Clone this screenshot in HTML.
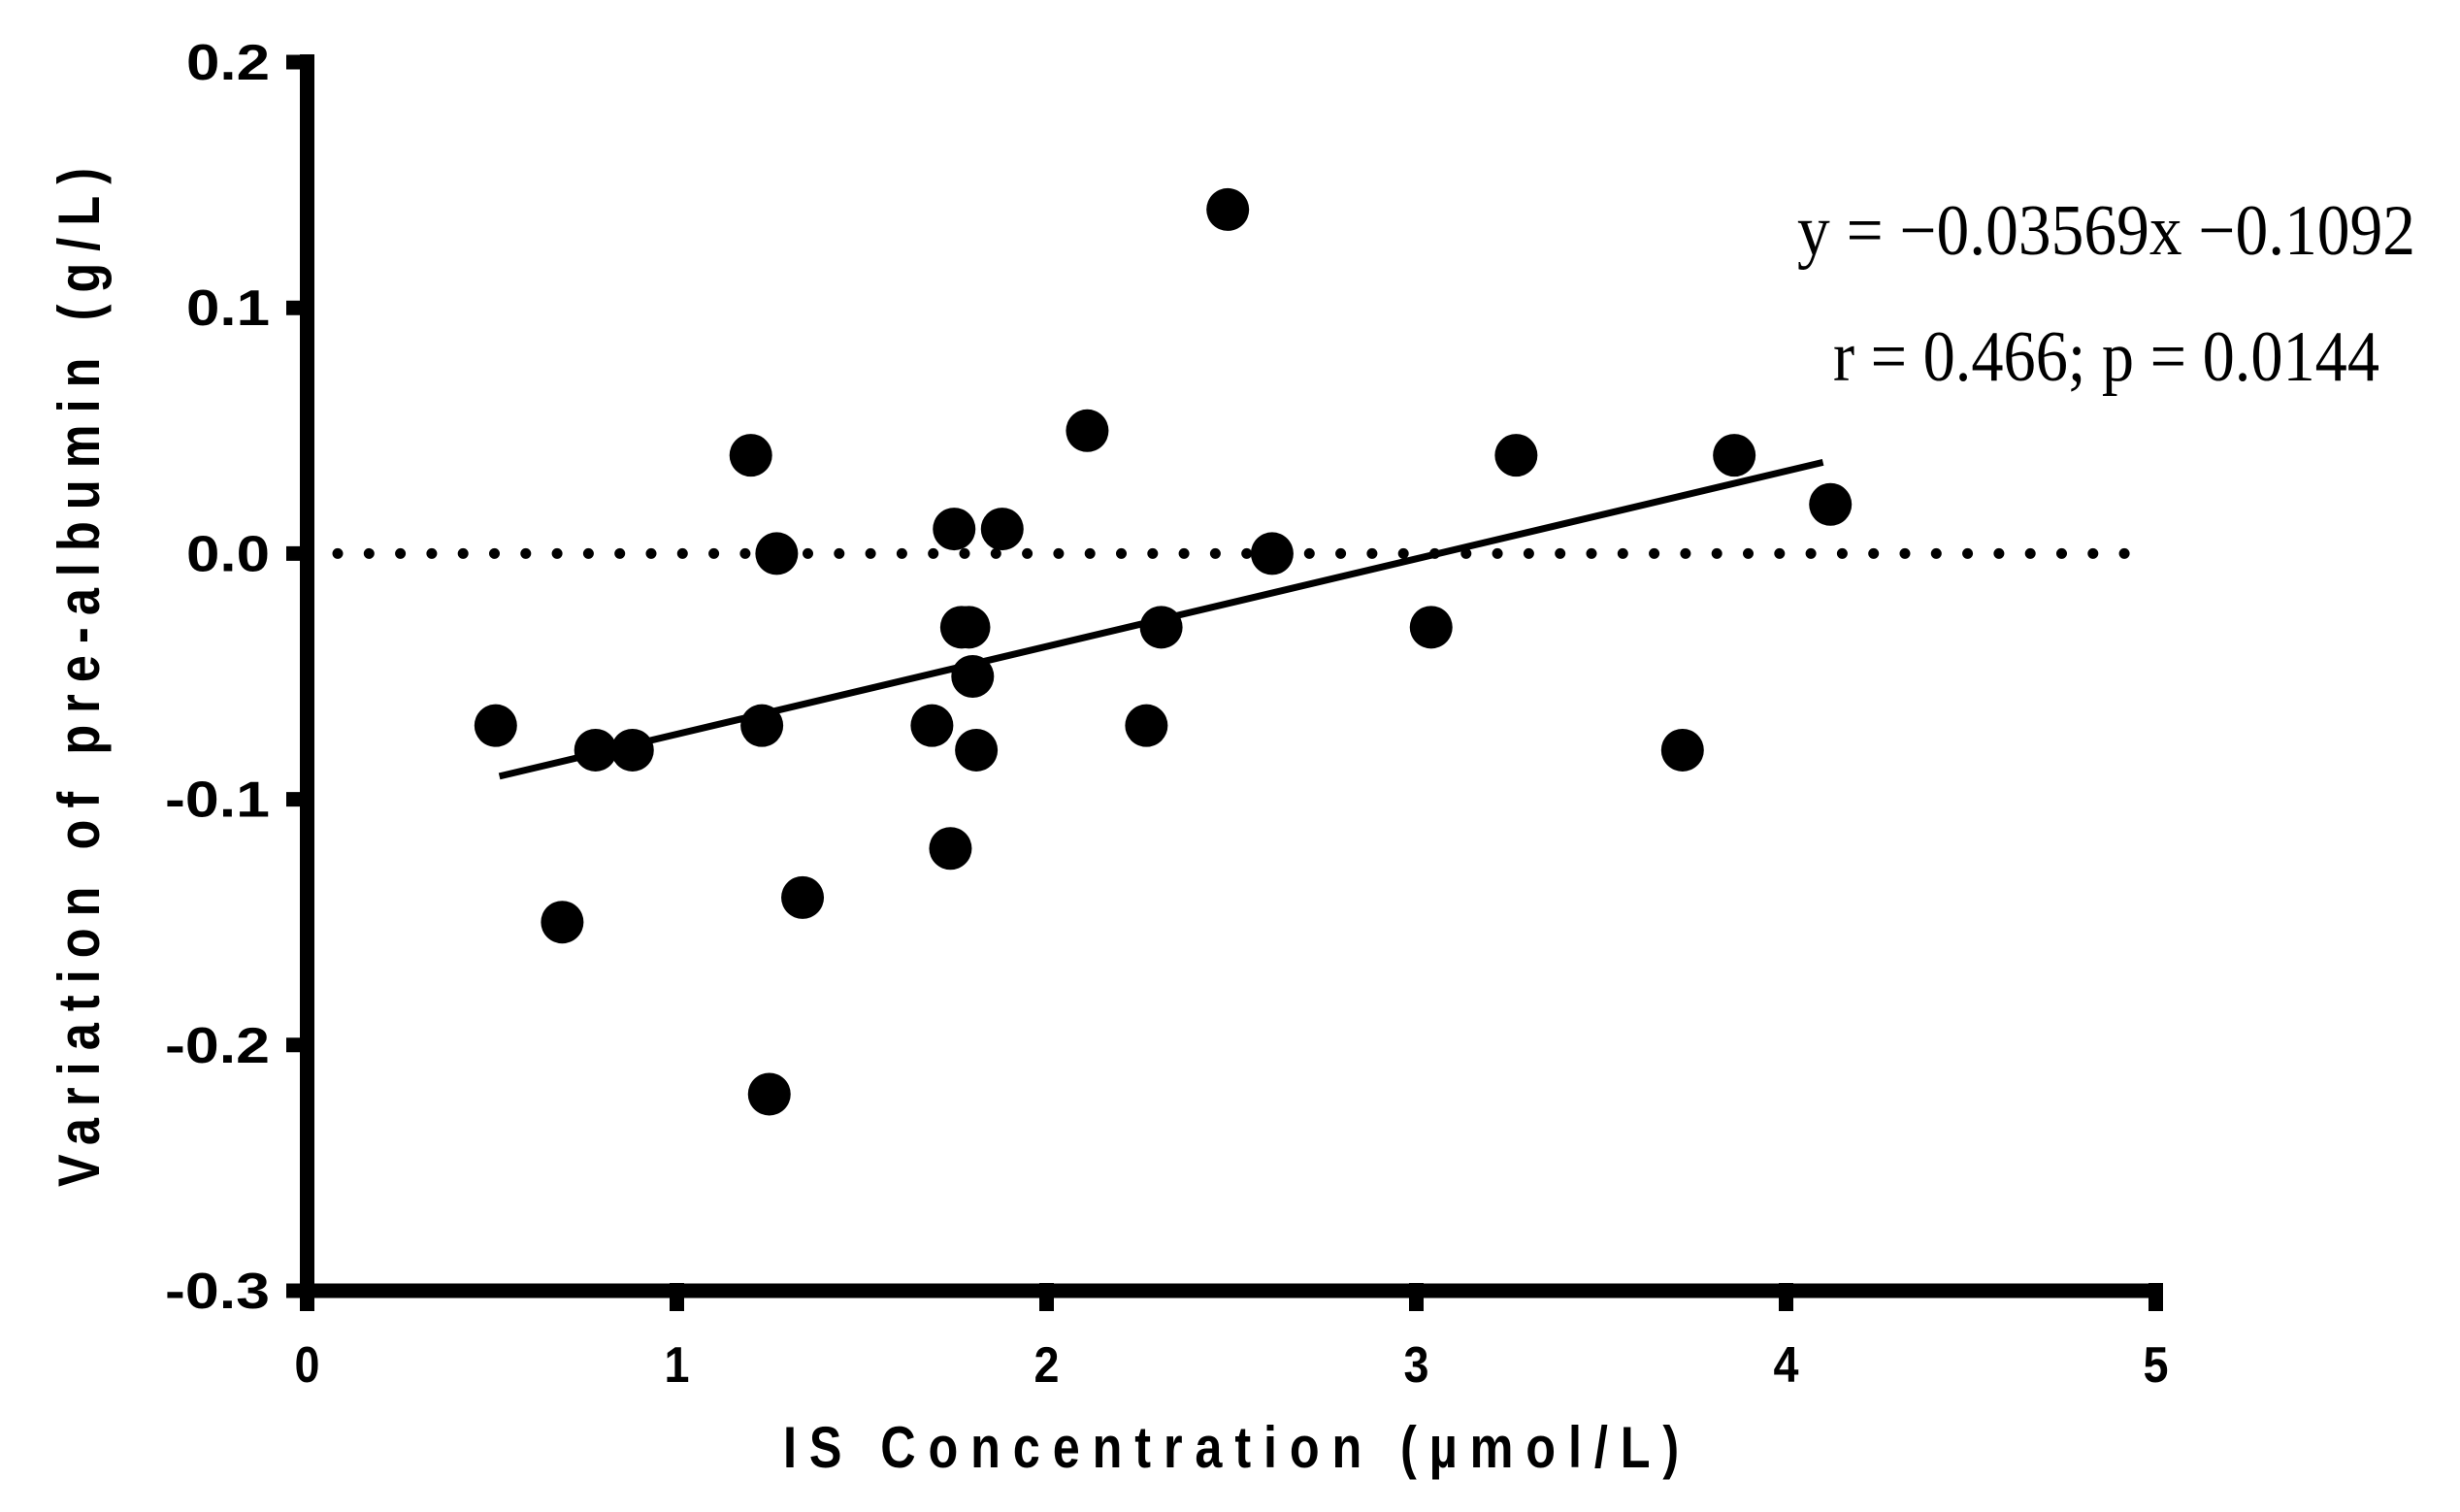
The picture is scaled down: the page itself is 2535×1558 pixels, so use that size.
<!DOCTYPE html>
<html><head><meta charset="utf-8"><style>
html,body{margin:0;padding:0;background:#fff;}
svg{display:block;}
text{white-space:pre;}
</style></head><body>
<svg id="chart" width="2535" height="1558" viewBox="0 0 2535 1558" xmlns="http://www.w3.org/2000/svg" xml:space="preserve">
<g id="plot"></g>
</svg>
<script>
const xValues = [0.51,0.69,0.78,0.88,1.20,1.23,1.25,1.27,1.34,1.69,1.74,1.75,1.77,1.79,1.80,1.81,1.88,2.11,2.27,2.31,2.49,2.61,3.04,3.27,3.72,3.86,4.12];
const yValues = [-0.07,-0.15,-0.08,-0.08,0.04,-0.07,-0.22,0.0,-0.14,-0.07,-0.12,0.01,-0.03,-0.03,-0.05,-0.08,0.01,0.05,-0.07,-0.03,0.14,0.0,-0.03,0.04,-0.08,0.04,0.02];
const xTicks = [0,1,2,3,4,5];
const xTickLabels = ["0","1","2","3","4","5"];
const yTicks = [0.2,0.1,0.0,-0.1,-0.2,-0.3];
const yTickLabels = ["0.2","0.1","0.0","-0.1","-0.2","-0.3"];
const fitSlope = 0.03569;
const fitIntercept = -0.1092;
const fitRange = [0.52, 4.1];

const NS = "http://www.w3.org/2000/svg";
const g = document.getElementById('plot');
const X0 = 316.5, XU = 381;
const Y0 = 570.4, YU = 2532;
function sx(v){ return X0 + v*XU; }
function sy(v){ return Y0 - v*YU; }
function mk(tag, attrs, parent){ const e=document.createElementNS(NS,tag); for(const k in attrs) e.setAttribute(k,attrs[k]); (parent||g).appendChild(e); return e; }

let zl = mk('line',{x1:348,x2:2212,y1:sy(0),y2:sy(0),stroke:'#000','stroke-width':11,'stroke-linecap':'round','stroke-dasharray':'0 32.3'});



let ya = mk('line',{x1:X0,x2:X0,y1:56,y2:1338,stroke:'#000','stroke-width':15});


let xa = mk('line',{x1:309,x2:2229,y1:1330,y2:1330,stroke:'#000','stroke-width':15});



xTicks.forEach((t,i)=>{
  const x = sx(t);
  let tk = mk('line',{x1:x,x2:x,y1:1322,y2:1351,stroke:'#000','stroke-width':15});
  
  
  let lb = mk('text',{x:x,y:1424,'text-anchor':'middle','font-family':'Liberation Sans, Arial, sans-serif','font-weight':'bold','font-size':52,textLength:26,lengthAdjust:'spacingAndGlyphs'});
  lb.textContent = xTickLabels[i];
  
  
});
yTicks.forEach((t,i)=>{
  const y = sy(t);
  let tk = mk('line',{x1:295,x2:323,y1:y,y2:y,stroke:'#000','stroke-width':15});
  
  
  const neg = yTickLabels[i].startsWith('-');
  let lb = mk('text',{x:278,y:y+18,'text-anchor':'end','font-family':'Liberation Sans, Arial, sans-serif','font-weight':'bold','font-size':52,textLength:neg?108:86,lengthAdjust:'spacingAndGlyphs'});
  lb.textContent = yTickLabels[i];
  
  
});

let fl = mk('line',{x1:sx(fitRange[0]),y1:sy(fitSlope*fitRange[0]+fitIntercept),x2:sx(fitRange[1]),y2:sy(fitSlope*fitRange[1]+fitIntercept),stroke:'#000','stroke-width':7});



xValues.forEach((xv,i)=>{
  let c = mk('circle',{cx:sx(xv),cy:sy(yValues[i]),r:22,fill:'#000'});
  
  
});

let xg = mk('g',{transform:'translate(807,1512) scale(0.84,1)'});


let xt = mk('text',{x:0,y:0,'font-family':'Liberation Sans, Arial, sans-serif','font-weight':'bold','font-size':60,textLength:1099,lengthAdjust:'spacing'},xg);
xt.textContent = 'IS Concentration (µmol/L)';



let yg = mk('g',{transform:'translate(102,1223) rotate(-90) scale(0.84,1)'});


let yt = mk('text',{x:0,y:0,'font-family':'Liberation Sans, Arial, sans-serif','font-weight':'bold','font-size':60,textLength:1250,lengthAdjust:'spacing'},yg);
yt.textContent = 'Variation of pre-albumin (g/L)';



let eq = mk('text',{x:1852,y:262,'font-family':'Liberation Serif, Times New Roman, serif','font-size':74,textLength:637,lengthAdjust:'spacingAndGlyphs'});
eq.textContent = 'y = \u22120.03569x \u22120.1092';


let st = mk('text',{x:1889,y:392,'font-family':'Liberation Serif, Times New Roman, serif','font-size':74,textLength:563,lengthAdjust:'spacingAndGlyphs'});
st.textContent = 'r = 0.466; p = 0.0144';


</script>
</body></html>
